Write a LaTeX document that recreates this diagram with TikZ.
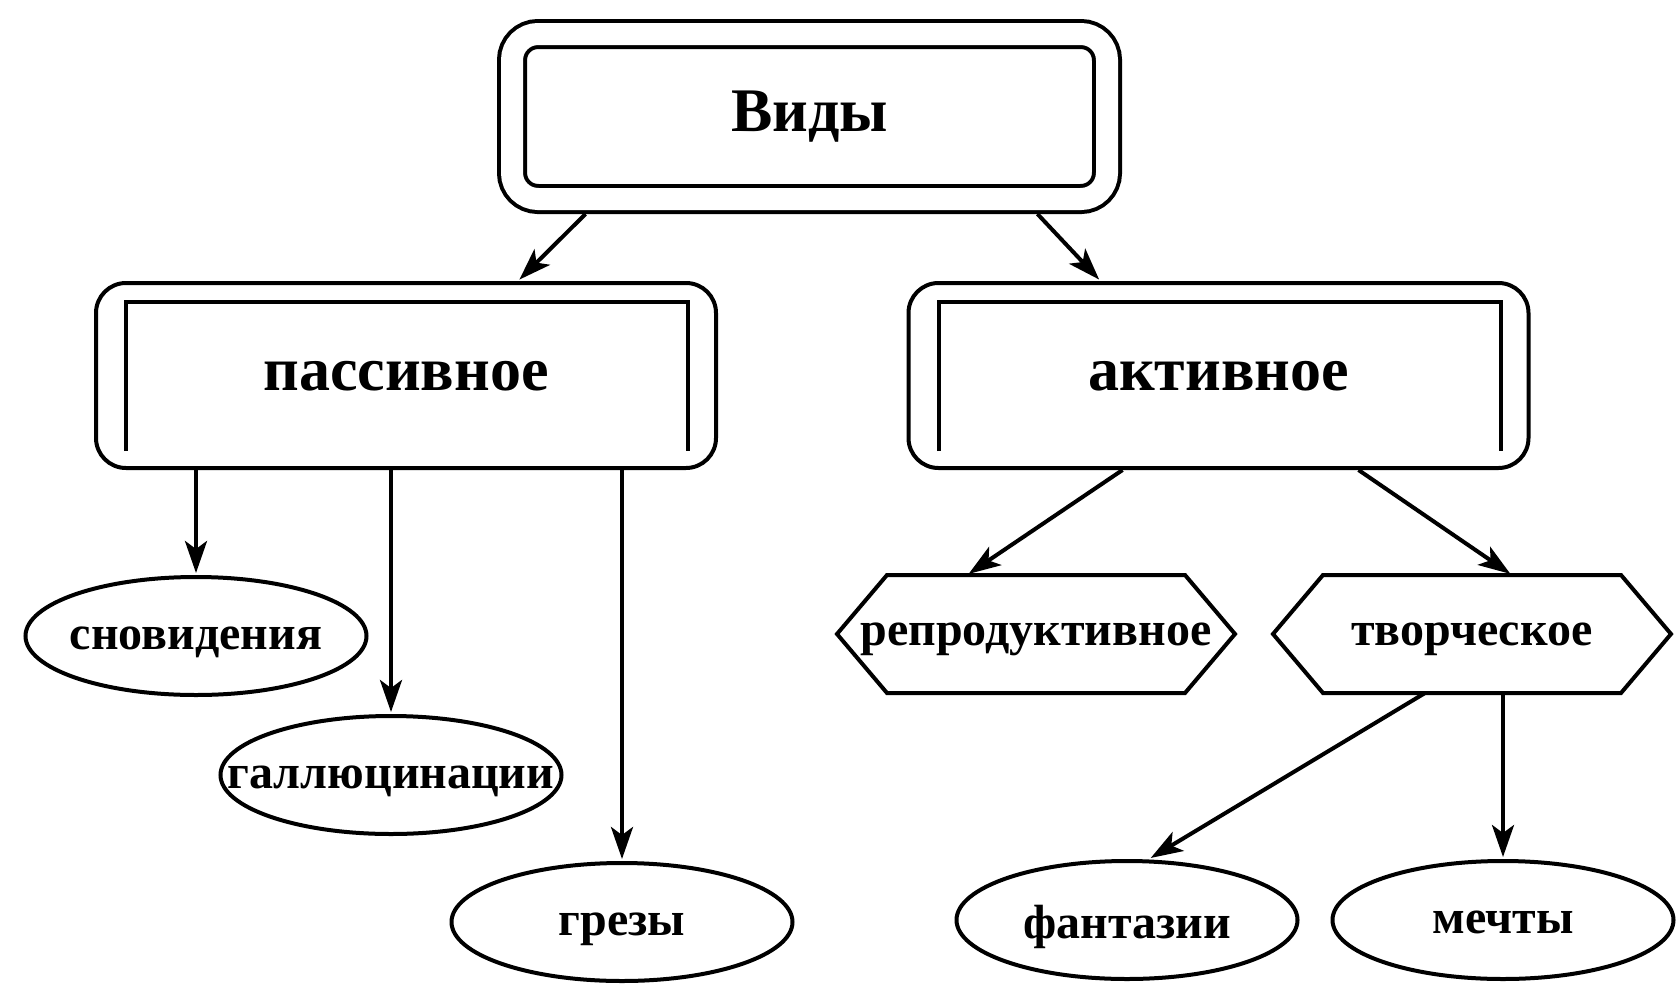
\documentclass[tikz,border=0pt]{standalone}
\usepackage{fontspec}
\setmainfont{Liberation Serif}
\usetikzlibrary{shapes.geometric,arrows.meta}
\begin{document}
\begin{tikzpicture}[x={(0.5pt,0)},y={(0,-0.5pt)},line width=2pt,
  big/.style={font=\fontsize{31}{36}\selectfont\bfseries},
  small/.style={font=\fontsize{24}{28}\selectfont\bfseries,text depth=0pt},
  vidbox/.style={draw,double,double distance=11pt,rounded corners=13pt,outer sep=7.5pt,
    minimum width=297.5pt,minimum height=82.5pt,big},
  kindbox/.style={draw,rounded corners=15pt,minimum width=310pt,minimum height=92.5pt,
    big,text depth=0pt},
  leaf/.style={draw,ellipse,minimum width=170.5pt,minimum height=59pt,
    label={[small,yshift=-1pt]center:#1}},
  hexa/.style={minimum width=197pt,minimum height=57pt,inner sep=0pt,outer sep=1pt,small},
  arr/.style={line width=2pt,shorten >=1pt,-{Stealth[length=16pt,width=11pt,inset=4pt]}}]
  \useasboundingbox (0,0) rectangle (1676,985);
  \node[vidbox] (vid) at (809.5,116.5) {Виды};
  \node[kindbox] (pas) at (406,375.5) {пассивное};
  \node[kindbox] (akt) at (1218.5,375.5) {активное};
  \foreach \n in {pas,akt}
    {\draw ([shift={(16pt,9.5pt)}]\n.south west) |- ([shift={(-15pt,-10.5pt)}]\n.north east)
       -- ([shift={(-15pt,9.5pt)}]\n.south east);}
  \node[leaf=сновидения] (son) at (196,636) {};
  \node[leaf=галлюцинации] (gal) at (391,775) {};
  \node[leaf=грезы] (grez) at (622,922) {};
  \node[hexa] (rep) at (1036,634) {репродуктивное};
  \node[hexa] (tvo) at (1472,634) {творческое};
  \foreach \n in {rep,tvo}
    {\draw (\n.west) -- ([xshift=25pt]\n.north west) -- ([xshift=-25pt]\n.north east)
       -- (\n.east) -- ([xshift=-25pt]\n.south east) -- ([xshift=25pt]\n.south west) -- cycle;}
  \node[leaf=фантазии] (fan) at (1127,920) {};
  \node[leaf=мечты] (mech) at (1503,920) {};
  \draw[arr] ([xshift=-112pt]vid.south) -- ([xshift=56pt]pas.north);
  \draw[arr] ([xshift=114pt]vid.south) -- ([xshift=-59pt]akt.north);
  \foreach \n in {son,gal,grez}
    {\draw[arr] (pas.south -| \n.north) -- (\n.north);}
  \draw[arr] ([xshift=-48pt]akt.south) -- ([xshift=-34.5pt]rep.north);
  \draw[arr] ([xshift=70pt]akt.south) -- ([xshift=20pt]tvo.north);
  \draw[arr] ([xshift=-23.5pt]tvo.south) -- ([xshift=11pt]fan.north);
  \draw[arr] (tvo.south -| mech.north) -- (mech.north);
\end{tikzpicture}
\end{document}
